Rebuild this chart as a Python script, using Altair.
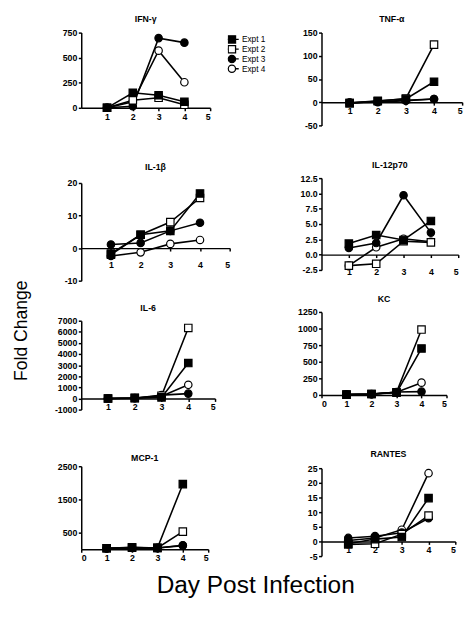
import altair as alt
import pandas as pd

days = [1, 2, 3, 4]
expts = ["Expt 1", "Expt 2", "Expt 3", "Expt 4"]

ifn_g = {"Expt 1": [0, 150, 125, 60], "Expt 2": [0, 75, 100, 30],
         "Expt 3": [0, 15, 695, 650], "Expt 4": [0, 60, 570, 255]}
tnf_a = {"Expt 1": [-2, 3, 7, 44], "Expt 2": [-2, 2, 8, 124],
         "Expt 3": [-1, 0, 3, 7], "Expt 4": [-1, 1, 4, 7]}
il_1b = {"Expt 1": [-1.7, 4.1, 5.3, 16.8], "Expt 2": [-2.0, 4.1, 8.0, 15.4],
         "Expt 3": [1.1, 1.6, 5.3, 7.8], "Expt 4": [-2.4, -1.3, 1.3, 2.5]}
il_12 = {"Expt 1": [1.8, 3.2, 2.4, 5.5], "Expt 2": [-1.8, -1.5, 2.2, 2.0],
         "Expt 3": [1.1, 1.9, 9.7, 3.6], "Expt 4": [-1.8, 1.2, 2.6, 2.1]}
il_6 = {"Expt 1": [0, 30, 100, 3190], "Expt 2": [0, 50, 250, 6350],
        "Expt 3": [0, 20, 300, 440], "Expt 4": [0, 40, 200, 1230]}
kc = {"Expt 1": [5, 15, 35, 700], "Expt 2": [5, 15, 40, 985],
      "Expt 3": [5, 10, 45, 50], "Expt 4": [5, 12, 40, 185]}
mcp_1 = {"Expt 1": [30, 60, 40, 1960], "Expt 2": [30, 50, 40, 530],
         "Expt 3": [25, 40, 35, 120], "Expt 4": [25, 45, 40, 110]}
rantes = {"Expt 1": [-0.8, 0.8, 1.5, 14.8], "Expt 2": [-1.0, -0.8, 2.5, 8.8],
          "Expt 3": [1.2, 1.8, 3.0, 7.9], "Expt 4": [0.3, 1.2, 4.0, 23.3]}

FILLS = ["black", "white", "black", "white"]
SHAPES = ["square", "square", "circle", "circle"]
# legend symbols: marker with a short line through it (path units: 3px)
SQ = "M-2.33,0H-1.25M1.25,0H2.33M-1.25,-1.25H1.25V1.25H-1.25Z"
CI = ("M-2.33,0H-1.25M1.25,0H2.33M-1.25,0A1.25,1.25,0,1,0,1.25,0"
      "A1.25,1.25,0,1,0,-1.25,0Z")
LEG_SHAPES = [SQ, SQ, CI, CI]
FONT = "Liberation Sans"
FIX_MINUS = "replace(datum.label, '\u2212', '-')"


def frame(vals):
    rows = []
    # later experiments first, so Expt 1 is drawn on top
    for e in reversed(expts):
        for d, v in zip(days, vals[e]):
            rows.append({"day": d, "value": v, "expt": e})
    return pd.DataFrame(rows)


def panel(name, vals, ydom, yvals, xvals, w, h, top_extra=0, title_off=5,
          lab_pad=1.5, fmt="d", legend=False):
    df = frame(vals)
    off = -h * (0 - ydom[0]) / (ydom[1] - ydom[0])
    xaxis = alt.Axis(values=xvals, offset=off, labelPadding=lab_pad, format="d")
    yaxis = alt.Axis(values=yvals, labelExpr=FIX_MINUS, format=fmt)
    x = alt.X("day:Q", scale=alt.Scale(domain=[0, 5], nice=False, zero=False),
              axis=xaxis, title=None)
    y = alt.Y("value:Q", scale=alt.Scale(domain=ydom, nice=False, zero=False),
              axis=yaxis, title=None)
    base = alt.Chart(df)
    line = base.mark_line(color="black", strokeWidth=1.6).encode(
        x=x, y=y, detail="expt:N")
    pts = base.mark_point(filled=True, stroke="black", strokeWidth=1.2,
                          size=58, opacity=1).encode(
        x=x, y=y,
        shape=alt.Shape("expt:N", scale=alt.Scale(domain=expts, range=SHAPES),
                        legend=None),
        fill=alt.Fill("expt:N", scale=alt.Scale(domain=expts, range=FILLS),
                      legend=None))
    layers = [line, pts]
    if legend:
        leg = alt.Legend(orient="none", legendX=150, legendY=2, title=None,
                         symbolSize=36, symbolStrokeWidth=1.3,
                         symbolOpacity=1, labelFont=FONT, labelFontSize=8.5,
                         labelColor="black", labelOffset=6, rowPadding=0,
                         clipHeight=10, padding=0)
        lg = alt.Chart(df).mark_point(filled=True, strokeWidth=1.3,
                                      opacity=1).encode(
            shape=alt.Shape("expt:N",
                            scale=alt.Scale(domain=expts, range=LEG_SHAPES),
                            legend=leg),
            fill=alt.Fill("expt:N", scale=alt.Scale(domain=expts, range=FILLS),
                          legend=leg),
            stroke=alt.Stroke("expt:N",
                              scale=alt.Scale(domain=expts,
                                              range=["black"] * 4),
                              legend=leg),
        ).transform_filter("false")
        layers.append(lg)
    tkw = dict(offset=title_off)
    if top_extra:
        tkw["lineHeight"] = top_extra
        text = [" ", name]
    else:
        text = name
    ch = alt.layer(*layers).properties(
        width=w, height=h, title=alt.TitleParams(text, **tkw))
    if legend:
        ch = ch.resolve_scale(shape="independent", fill="independent",
                              stroke="independent")
    return ch


X15 = [1, 2, 3, 4, 5]
X05 = [0, 1, 2, 3, 4, 5]

p_ifn = panel("IFN-\u03b3", ifn_g, [0, 750], [0, 250, 500, 750], X15, 132, 77,
              title_off=5, legend=True)
p_il1b = panel("IL-1\u03b2", il_1b, [-10, 20], [-10, 0, 10, 20], X15, 152, 100,
               top_extra=28.5, title_off=7, lab_pad=10)
p_il6 = panel("IL-6", il_6, [-1000, 7000], list(range(-1000, 7001, 1000)), X15,
              137, 91, top_extra=5, title_off=4)
p_mcp = panel("MCP-1", mcp_1, [0, 2500], [500, 1500, 2500], X05, 130, 85,
              top_extra=27, title_off=-1)

p_tnf = panel("TNF-\u03b1", tnf_a, [-50, 150], [-50, 0, 50, 100, 150], X15,
              144, 95, title_off=5)
p_il12 = panel("IL-12p70", il_12, [-2.5, 12.5],
               [-2.5, 0, 2.5, 5, 7.5, 10, 12.5], X15, 140, 94,
               top_extra=17.5, title_off=4, lab_pad=10.5, fmt=".1f")
p_kc = panel("KC", kc, [0, 1250], [0, 250, 500, 750, 1000, 1250], X05, 128, 85,
             top_extra=5, title_off=4)
p_rantes = panel("RANTES", rantes, [-5, 25], [-5, 0, 5, 10, 15, 20, 25], X15,
                 137, 90, top_extra=28.5, title_off=5)

left = alt.vconcat(p_ifn, p_il1b, p_il6, p_mcp, spacing=14)
right = alt.vconcat(p_tnf, p_il12, p_kc, p_rantes, spacing=14)

body = alt.hconcat(left, right, spacing=32).properties(
    title=alt.TitleParams("Fold Change", orient="left", anchor="middle",
                          font=FONT, fontSize=18, fontWeight="normal",
                          color="black", offset=24, dx=-43))

chart = alt.vconcat(body, spacing=0).properties(
    title=alt.TitleParams("Day Post Infection", orient="bottom",
                          anchor="middle", font=FONT, fontSize=25,
                          fontWeight="normal", color="black", offset=11,
                          dx=18),
    padding={"left": 5, "top": 0, "right": 5, "bottom": 5},
).configure_view(stroke=None).configure_axis(
    domainColor="black", domainWidth=1.5, tickColor="black", tickWidth=1.5,
    tickSize=3, labelFont=FONT, labelFontSize=9, labelFontWeight="bold",
    labelColor="black", grid=False, labelPadding=1.5,
).configure_title(
    font=FONT, fontSize=9, fontWeight="bold", color="black", anchor="middle")

chart.save("out.html", embed_options={"renderer": "svg", "actions": False})
